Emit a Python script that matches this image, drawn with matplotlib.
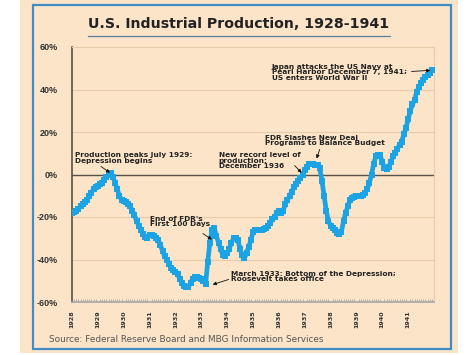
import numpy as np
import matplotlib.pyplot as plt
from matplotlib.patches import Rectangle
from matplotlib.lines import Line2D

plt.rcParams["font.family"] = ["Liberation Sans", "DejaVu Sans"]

# monthly industrial production, % relative to July 1929 peak
years = list(range(1928, 1942))
prod_1928 = [-18, -17.5, -17, -16, -15, -14, -13, -12, -10, -8.5, -7, -6]
prod_1929 = [-5.5, -4.5, -4, -2.5, -1, 0, 0.5, -1, -4, -7, -10, -12]
prod_1930 = [-12.5, -13, -14, -15, -17, -19, -22, -24, -26, -28, -29.5, -30]
prod_1931 = [-28.5, -28.5, -29, -30, -31, -33, -36, -38.5, -40, -42, -44, -45]
prod_1932 = [-46, -47, -49, -51, -52.5, -53, -53, -51, -49, -48, -48, -48.5]
prod_1933 = [-49, -50, -51.5, -41, -32, -26, -25, -29, -32, -35, -38, -38.5]
prod_1934 = [-37, -35, -32, -30, -30, -31, -35, -38, -39.5, -37, -34, -31]
prod_1935 = [-27, -26, -26, -26, -26, -25.5, -25, -24, -23, -21, -20, -18]
prod_1936 = [-17, -18, -17, -14, -12, -10, -8, -6, -4.5, -3, -1.5, 0]
prod_1937 = [2, 3.5, 5, 5, 5, 4.5, 4.5, 3, -3, -10, -17, -22]
prod_1938 = [-24, -25, -26, -27.5, -28, -27, -22, -18, -15, -12, -11, -10.5]
prod_1939 = [-10, -10, -10, -9.5, -8.5, -7, -4, 0, 5, 8.5, 9, 9]
prod_1940 = [6, 3, 2.5, 3.5, 6, 8.5, 10, 12, 14, 15.5, 19, 22]
prod_1941 = [26, 30, 33, 35, 39, 41, 43, 44.5, 46, 47, 48, 49]

values = (prod_1928 + prod_1929 + prod_1930 + prod_1931 + prod_1932 + prod_1933 + prod_1934
          + prod_1935 + prod_1936 + prod_1937 + prod_1938 + prod_1939 + prod_1940 + prod_1941)
months = 1928 + np.arange(len(values)) / 12.0

y_ticks = [-60, -40, -20, 0, 20, 40, 60]

BG = "#FBE4C8"
LINE = "#1BA3E4"
GRID = "#E8CBA8"
WIDE = ["DejaVu Sans"]

fig = plt.figure(figsize=(4.74, 3.55), dpi=100)
fig.patch.set_facecolor("white")
fig.patches.append(Rectangle((20 / 474, 2 / 355), 438 / 474, 353 / 355, transform=fig.transFigure,
                             facecolor=BG, edgecolor="none", zorder=-5))
fig.patches.append(Rectangle((33 / 474, 1 - 349 / 355), 418 / 474, 344 / 355, transform=fig.transFigure,
                             facecolor="none", edgecolor="#3E8DC8", linewidth=1.6, zorder=5))

ax = fig.add_axes([72 / 474, 1 - 302 / 355, 362 / 474, 255 / 355])
ax.set_facecolor(BG)

ax.plot(months, values, color=LINE, linewidth=3.4, marker="s", markersize=4.6,
        markeredgewidth=0, zorder=3)

ax.set_xlim(1928, 1942)
ax.set_ylim(-60, 60)

ax.set_yticks(y_ticks)
ax.set_yticklabels([f"{v}%" for v in y_ticks], fontsize=6.5, fontweight="bold", color="#333333")
ax.set_xticks(years)
ax.set_xticklabels([str(y) for y in years], rotation=90, fontsize=4.6, fontweight="bold",
                   color="#333333", family=WIDE)
ax.set_xticks(months, minor=True)
ax.tick_params(axis="y", length=0, pad=10)
ax.tick_params(axis="x", which="major", length=0, pad=6)
ax.tick_params(axis="x", which="minor", length=2, width=0.5, color="#999999", direction="in")

for v in [-40, -20, 20, 40]:
    ax.axhline(v, color=GRID, linewidth=0.8, zorder=1)
ax.axhline(0, color="#5A5048", linewidth=1.0, zorder=2)

for side in ["top", "right"]:
    ax.spines[side].set_color(GRID)
    ax.spines[side].set_linewidth(0.8)
ax.spines["bottom"].set_color("#A8A8A8")
ax.spines["bottom"].set_linewidth(1.2)
ax.spines["left"].set_color("#5A5048")
ax.spines["left"].set_linewidth(1.2)

fs = 5.3
note = dict(fontsize=fs, fontweight="bold", va="top", ha="left", linespacing=0.92,
            color="#222222", family=WIDE)
ax.text(1928.12, 10.6, "Production peaks July 1929:\nDepression begins", **note)
ax.text(1933.68, 10.6, "New record level of\nproduction:\nDecember 1936", **note)
ax.text(1935.45, 18.8, "FDR Slashes New Deal\nPrograms to Balance Budget", **note)
ax.text(1935.72, 52.2, "Japan attacks the US Navy at\nPearl Harbor December 7, 1941;\nUS enters World War II",
        **note)
ax.text(1931.01, -19.4, "End of FDR's\nFirst 100 Days", **note)
ax.text(1934.14, -45.2, "March 1933: Bottom of the Depression;\nRoosevelt takes office", **note)

arrows = [
    ((1929.12, 3.8), (1929.47, 0.8)),
    ((1936.61, 4.2), (1936.88, 0.8)),
    ((1937.58, 11.8), (1937.46, 7.5)),
    ((1941.13, 48.5), (1941.86, 49.0)),
    ((1933.06, -27.8), (1933.41, -30.6)),
    ((1934.06, -49.4), (1933.44, -51.8)),
]
for start, end in arrows:
    ax.annotate("", xy=end, xytext=start,
                arrowprops=dict(arrowstyle="-|>", color="#111111", lw=0.6,
                                mutation_scale=5, shrinkA=0, shrinkB=0), zorder=4)

fig.text(239 / 474, 1 - 24 / 355, "U.S. Industrial Production, 1928-1941", fontsize=10.2,
         fontweight="bold", ha="center", va="center", color="#222222", family=WIDE)
fig.add_artist(Line2D([88 / 474, 390 / 474], [1 - 36 / 355, 1 - 36 / 355],
                      transform=fig.transFigure, color="#5A7FA0", linewidth=0.9))
fig.text(49 / 474, 1 - 339 / 355, "Source: Federal Reserve Board and MBG Information Services",
         fontsize=6.4, ha="left", va="center", color="#555555", family=WIDE)

fig.savefig("out.png", dpi=100, facecolor=fig.get_facecolor())
